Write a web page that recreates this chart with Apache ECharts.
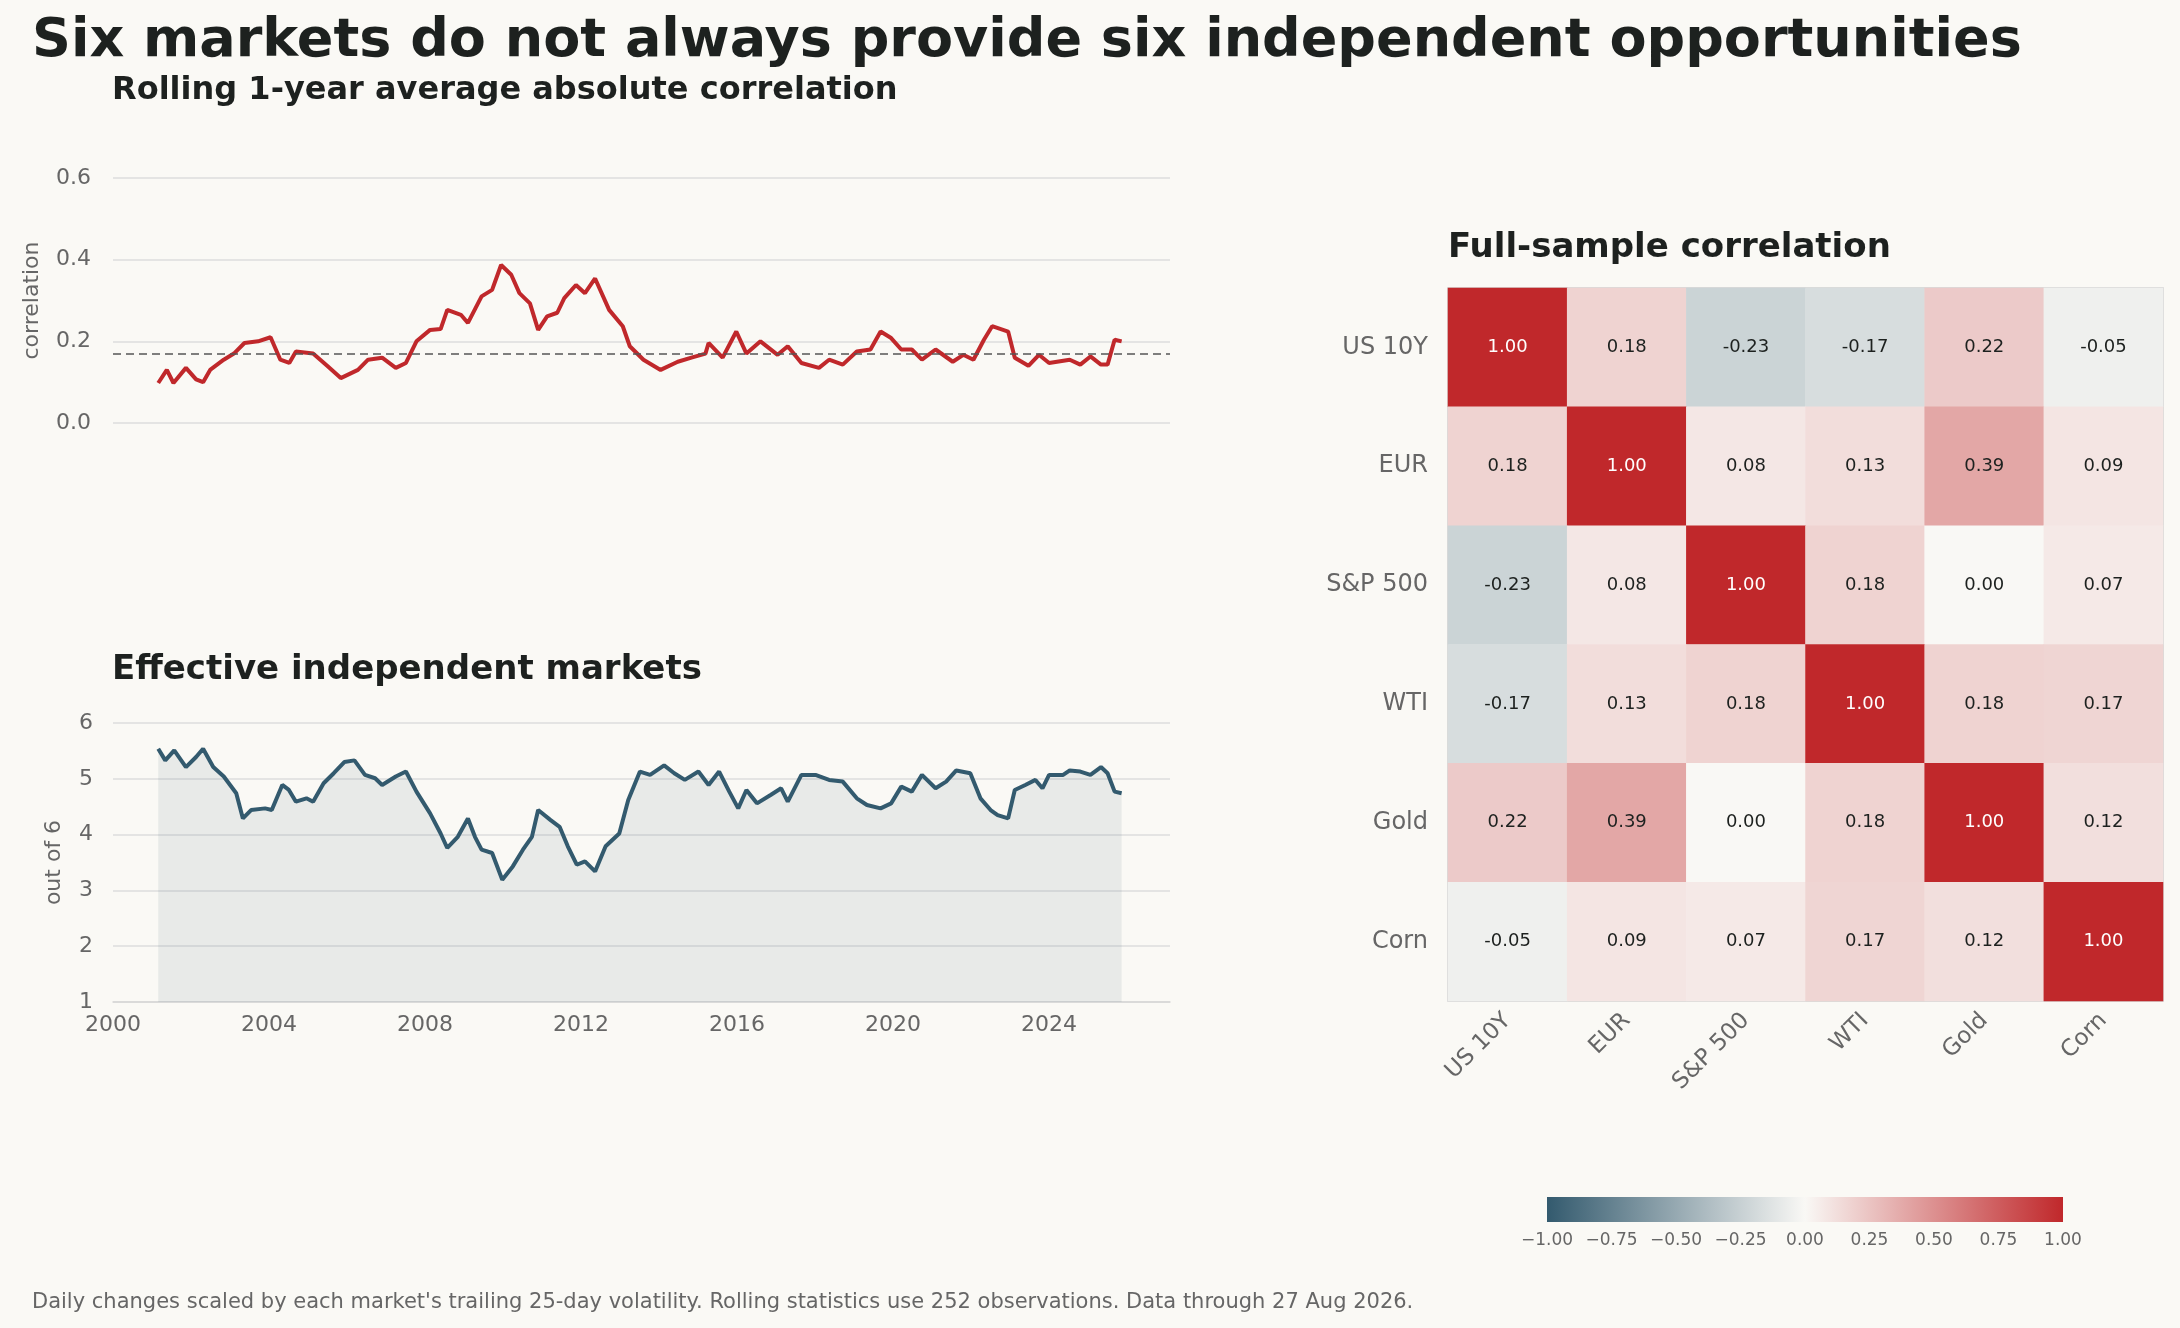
<!DOCTYPE html>
<html><head><meta charset="utf-8">
<script src="https://cdn.jsdelivr.net/npm/echarts@6/dist/echarts.min.js"></script>
<style>html,body{margin:0;padding:0;background:#faf9f5}#c{width:2180px;height:1328px}</style>
</head><body><div id="c"></div>
<script>
const corrYears=[2001.16,2001.38,2001.55,2001.87,2002.13,2002.31,2002.49,2002.84,2003.10,2003.37,2003.72,2004.04,2004.29,2004.52,2004.69,2005.13,2005.49,2005.84,2006.28,2006.54,2006.90,2007.25,2007.51,2007.78,2008.13,2008.40,2008.57,2008.92,2009.10,2009.45,2009.72,2009.95,2010.21,2010.42,2010.69,2010.90,2011.13,2011.39,2011.57,2011.87,2012.10,2012.36,2012.72,2013.07,2013.25,2013.60,2014.04,2014.48,2014.83,2015.19,2015.27,2015.63,2015.98,2016.24,2016.60,2017.04,2017.30,2017.65,2018.10,2018.36,2018.71,2019.07,2019.42,2019.68,2019.95,2020.21,2020.48,2020.74,2021.09,2021.53,2021.80,2022.06,2022.33,2022.54,2022.95,2023.12,2023.47,2023.74,2024.00,2024.53,2024.80,2025.06,2025.33,2025.50,2025.68,2025.86];
const corrValues=[0.098,0.13,0.098,0.135,0.107,0.10,0.13,0.155,0.17,0.196,0.20,0.21,0.155,0.147,0.175,0.17,0.14,0.11,0.13,0.155,0.16,0.135,0.147,0.20,0.228,0.23,0.277,0.265,0.245,0.31,0.326,0.387,0.363,0.318,0.293,0.228,0.261,0.27,0.306,0.338,0.318,0.354,0.277,0.237,0.188,0.155,0.13,0.15,0.16,0.17,0.196,0.16,0.224,0.17,0.20,0.167,0.188,0.147,0.135,0.155,0.143,0.175,0.18,0.224,0.208,0.18,0.18,0.155,0.18,0.15,0.167,0.155,0.204,0.237,0.224,0.16,0.14,0.167,0.147,0.155,0.143,0.163,0.143,0.143,0.204,0.20];
const corrMean=0.173;
const effYears=[2001.16,2001.34,2001.57,2001.87,2002.13,2002.31,2002.57,2002.84,2003.16,2003.33,2003.54,2003.90,2004.07,2004.34,2004.51,2004.69,2004.96,2005.13,2005.40,2005.66,2005.93,2006.19,2006.46,2006.72,2006.90,2007.25,2007.51,2007.78,2008.13,2008.40,2008.57,2008.84,2009.10,2009.28,2009.45,2009.72,2009.98,2010.25,2010.51,2010.74,2010.90,2011.22,2011.45,2011.66,2011.89,2012.10,2012.36,2012.63,2012.98,2013.21,2013.51,2013.77,2014.13,2014.39,2014.66,2015.01,2015.27,2015.54,2015.80,2016.03,2016.24,2016.51,2016.86,2017.13,2017.30,2017.65,2018.01,2018.36,2018.71,2019.07,2019.33,2019.68,2019.95,2020.21,2020.48,2020.74,2021.09,2021.36,2021.62,2021.98,2022.24,2022.50,2022.68,2022.95,2023.12,2023.39,2023.65,2023.83,2024.00,2024.36,2024.53,2024.80,2025.06,2025.33,2025.50,2025.68,2025.86];
const effValues=[5.54,5.33,5.51,5.21,5.39,5.54,5.21,5.04,4.74,4.29,4.44,4.47,4.44,4.89,4.80,4.59,4.65,4.59,4.92,5.10,5.30,5.33,5.07,5.01,4.89,5.04,5.13,4.77,4.38,4.02,3.76,3.96,4.29,3.96,3.73,3.67,3.19,3.43,3.73,3.96,4.44,4.26,4.14,3.79,3.46,3.52,3.34,3.79,4.02,4.62,5.13,5.07,5.24,5.10,4.98,5.13,4.89,5.13,4.77,4.47,4.80,4.56,4.71,4.83,4.59,5.07,5.07,4.98,4.95,4.65,4.53,4.47,4.56,4.86,4.77,5.07,4.83,4.95,5.15,5.10,4.65,4.44,4.35,4.29,4.80,4.89,4.98,4.83,5.07,5.07,5.15,5.13,5.07,5.21,5.10,4.77,4.74];
const markets=['US 10Y','EUR','S&P 500','WTI','Gold','Corn'];
const corrMatrix=[
 [1,0.18,-0.23,-0.17,0.22,-0.05],
 [0.18,1,0.08,0.13,0.39,0.09],
 [-0.23,0.08,1,0.18,0,0.07],
 [-0.17,0.13,0.18,1,0.18,0.17],
 [0.22,0.39,0,0.18,1,0.12],
 [-0.05,0.09,0.07,0.17,0.12,1]];
const colorbarTicks=[-1,-0.75,-0.5,-0.25,0,0.25,0.5,0.75,1];

const C_RED='#c0282b',C_BLUE='#335a6e',C_MID='#f9f8f5';
const heat=[];
corrMatrix.forEach((row,i)=>row.forEach((v,j)=>heat.push([j,i,v])));
const fmt=v=>(v<0?'\u2212':'')+Math.abs(v).toFixed(2);
const grey='#666';
const chart=echarts.init(document.getElementById('c'));
chart.setOption({
 backgroundColor:'#faf9f5',
 animation:false,
 textStyle:{fontFamily:'DejaVu Sans'},
 title:[
  {text:'Six markets do not always provide six independent opportunities',left:27,top:10,textStyle:{fontSize:54,fontWeight:'bold',color:'#1d211f'}},
  {text:'Rolling 1-year average absolute correlation',left:107,top:70,textStyle:{fontSize:32,fontWeight:'bold',color:'#1d211f'}},
  {text:'Effective independent markets',left:107,top:648,textStyle:{fontSize:34,fontWeight:'bold',color:'#1d211f'}},
  {text:'Full-sample correlation',left:1443,top:226,textStyle:{fontSize:34,fontWeight:'bold',color:'#1d211f'}},
  {text:"Daily changes scaled by each market's trailing 25-day volatility. Rolling statistics use 252 observations. Data through 27 Aug 2026.",left:27,top:1287,textStyle:{fontSize:21,fontWeight:'normal',color:grey}}
 ],
 grid:[
  {left:113,width:1057,top:178,height:245},
  {left:113,width:1057,top:723,height:279},
  {left:1448,width:715,top:288,height:713,show:true,borderColor:'#cfcfcf',borderWidth:1.5},
  {left:1547,width:516,top:1197,height:25}
 ],
 xAxis:[
  {gridIndex:0,type:'value',min:2000,max:2027.1,interval:4,show:false},
  {gridIndex:1,type:'value',min:2000,max:2027.1,interval:4,axisLine:{show:true,lineStyle:{color:'#d6d6d6',width:1.5}},axisTick:{show:false},splitLine:{show:false},axisLabel:{color:grey,fontSize:22,margin:12,formatter:v=>String(v),showMaxLabel:false}},
  {gridIndex:2,type:'category',data:markets,axisLine:{show:false},axisTick:{show:false},axisLabel:{color:grey,fontSize:23,rotate:45,margin:16}},
  {gridIndex:3,type:'value',min:-1,max:1,interval:0.25,axisLine:{show:false},axisTick:{show:false},splitLine:{show:false},axisLabel:{color:grey,fontSize:17,margin:10,formatter:fmt}}
 ],
 yAxis:[
  {gridIndex:0,type:'value',min:0,max:0.6,interval:0.2,name:'correlation',nameLocation:'middle',nameGap:70,nameTextStyle:{color:grey,fontSize:22},axisLine:{show:false},axisTick:{show:false},splitLine:{lineStyle:{color:'#dcdcdc',width:1.5}},axisLabel:{color:grey,fontSize:22,margin:22,formatter:v=>v.toFixed(1)}},
  {gridIndex:1,type:'value',min:1,max:6,interval:1,name:'out of 6',nameLocation:'middle',nameGap:48,nameTextStyle:{color:grey,fontSize:22},axisLine:{show:false},axisTick:{show:false},splitLine:{lineStyle:{color:'#dcdcdc',width:1.5}},axisLabel:{color:grey,fontSize:22,margin:20}},
  {gridIndex:2,type:'category',data:markets,inverse:true,axisLine:{show:false},axisTick:{show:false},axisLabel:{color:grey,fontSize:24,margin:20}},
  {gridIndex:3,type:'value',min:0,max:1,show:false}
 ],
 visualMap:{show:false,seriesIndex:2,min:-1,max:1,dimension:2,inRange:{color:[C_BLUE,C_MID,C_RED]}},
 series:[
  {type:'line',xAxisIndex:0,yAxisIndex:0,data:corrYears.map((y,i)=>[y,corrValues[i]]),showSymbol:false,lineStyle:{color:C_RED,width:4},
   markLine:{silent:true,symbol:'none',label:{show:false},lineStyle:{color:'#555',type:[8,5],width:1.5},data:[{yAxis:corrMean}]}},
  {type:'line',xAxisIndex:1,yAxisIndex:1,data:effYears.map((y,i)=>[y,effValues[i]]),showSymbol:false,lineStyle:{color:C_BLUE,width:4},areaStyle:{color:'rgba(51,90,110,0.13)',origin:'start'}},
  {type:'heatmap',xAxisIndex:2,yAxisIndex:2,data:heat.map(d=>({value:d,label:{color:d[2]>0.9?'#ffffff':'#1d211f'}})),
   label:{show:true,fontSize:18,formatter:p=>p.value[2].toFixed(2)}},
  {type:'custom',xAxisIndex:3,yAxisIndex:3,data:[[-1,1]],renderItem:(params,api)=>{
    const p0=api.coord([-1,1]),p1=api.coord([1,0]);
    return {type:'rect',shape:{x:p0[0],y:p0[1],width:p1[0]-p0[0],height:p1[1]-p0[1]},
     style:{fill:new echarts.graphic.LinearGradient(0,0,1,0,[{offset:0,color:C_BLUE},{offset:0.5,color:C_MID},{offset:1,color:C_RED}])}};
  }}
 ]
});
</script></body></html>
